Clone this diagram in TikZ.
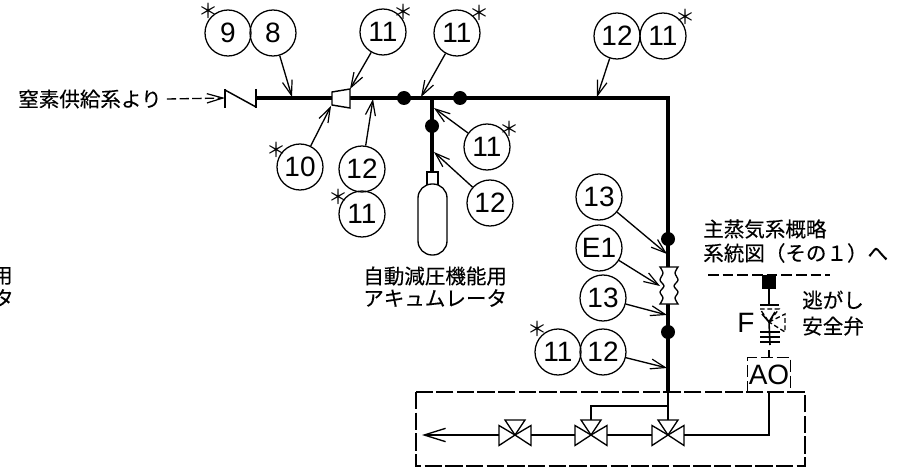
\documentclass[tikz,border=0pt]{standalone}
\usepackage{fontspec}
\setmainfont{Liberation Sans}
\newfontfamily\cjk[FakeBold=.25]{Noto Sans CJK JP}
\newfontfamily\cjkstar{Noto Sans CJK JP}
\usetikzlibrary{arrows.meta}
\tikzset{
  tag/.style={circle,draw,line width=.95pt,minimum size=34.5pt,inner sep=0pt,font=\fontsize{21}{22}\selectfont},
  star/.style={inner sep=0pt,font=\cjkstar\fontsize{15}{15}\selectfont},
  jp/.style={inner sep=0pt,anchor=west,font=\cjk\fontsize{15.4}{15.4}\selectfont},
  lead/.style={line width=1pt,-{Straight Barb[length=11pt,width=7.5pt,line width=.9pt]}},
  pipe/.style={line width=3.3pt},
  thin/.style={line width=1pt},
  dot/.style={circle,fill=black,inner sep=0pt,minimum size=10.5pt},
  dbox/.style={line width=1pt,dash pattern=on 13pt off 2.5pt},
  dline/.style={line width=1.1pt,dash pattern=on 8pt off 3pt},
  vbody/.style={line width=1pt,fill=white}
}
\newcommand{\vlv}[2]{%
  \coordinate (#1) at (#2,435);
  \coordinate (#1w) at (#2-16,435);
  \coordinate (#1e) at (#2+16,435);
  \coordinate (#1t) at (#2,420);
  \draw[vbody,line join=miter] (#1w) ++(0,-9.5) -- (#1) -- ++(16,-9.5) -- ++(0,20) -- (#1) -- ++(-16,10.5) -- cycle;
  \draw[vbody] (#1) -- ++(-10,-15) -- ++(20,0) -- cycle;
}
\begin{document}
\begin{tikzpicture}[x=.75pt,y=-.75pt]
\useasboundingbox (0,0) rectangle (898,470);
% named ends
\coordinate (chkL) at (225,98);
\coordinate (chkR) at (256,98);
\coordinate (redL) at (332,98);
\coordinate (redR) at (350,98);
\coordinate (corner) at (668,98);
\coordinate (boxtop) at (668,392);
\coordinate (tee) at (432,98);
\coordinate (neck) at (432,172);
% pipes
\draw[pipe] (chkR) -- (redL);
\draw[pipe,line join=miter] (redR) -- (corner) -- (boxtop);
\draw[pipe] (tee) -- (neck);
\node[dot] (d1) at (404,98) {};
\node[dot] (d2) at (460,98) {};
\node[dot] (d3) at (432,126) {};
\node[dot] (d4) at (668,239) {};
\node[dot] (d5) at (668,332) {};
% check valve
\draw[line width=1.1pt] (225,89) -- (225,108);
\draw[line width=1.1pt] (225,90) -- (256,107);
\draw[line width=1.1pt] (256,89) -- (256,108);
% reducer
\draw[line width=1.1pt,fill=white] (332,92) -- (350,89) -- (350,108) -- (332,105) -- cycle;
% accumulator
\draw[thin,fill=white] (427,172) rectangle (438,186);
\draw[thin,fill=white,rounded corners=10.5pt] (418,184) rectangle (447,255);
% bellows
\draw[thin,fill=white] plot[smooth] coordinates {(660,267)(663,273)(660,280)(664,286)(660,292)(663,298)(660,304)} -- plot[smooth] coordinates {(678,304)(675,298)(678,292)(674,286)(678,280)(675,273)(678,267)} -- cycle;
% tags
\node[tag] (t9) at (228,33) {9};
\node[tag] (t8) at (273,33) {8};
\node[tag] (t11a) at (383,32) {11};
\node[tag] (t11b) at (457,33) {11};
\node[tag] (t12a) at (617,36) {12};
\node[tag] (t11c) at (663,36) {11};
\node[tag] (t10) at (300,167) {10};
\node[tag] (t12b) at (362,169) {12};
\node[tag] (t11d) at (362,214) {11};
\node[tag] (t11e) at (487,147) {11};
\node[tag] (t12c) at (490,203) {12};
\node[tag] (t13a) at (599,197) {13};
\node[tag] (tE) at (599,248) {E1};
\node[tag] (t13b) at (603,298) {13};
\node[tag] (t11f) at (558,352) {11};
\node[tag] (t12d) at (603,352) {12};
% asterisks
\foreach \n/\px/\py in {s1/208/11,s2/403/12,s3/479/13,s4/685/17,s5/276/150,s6/338/197,s7/509/129,s8/537/329}
  \node[star] (\n) at (\px,\py) {＊};
% leaders
\coordinate (e8) at (292,97);
\coordinate (e11a) at (350,89);
\coordinate (e11b) at (421,97);
\coordinate (e12a) at (597,97);
\coordinate (e10) at (331,106);
\coordinate (e12b) at (373,99);
\coordinate (e11e) at (434,108);
\coordinate (e12c) at (434,152);
\coordinate (e13a) at (667,254);
\coordinate (eE) at (660,286);
\coordinate (e13b) at (667,315);
\coordinate (e12d) at (667,368);
\draw[lead] (t8) -- (e8);
\draw[lead] (t11a) -- (e11a);
\draw[lead] (t11b) -- (e11b);
\draw[lead] (t12a) -- (e12a);
\draw[lead] (t10) -- (e10);
\draw[lead] (t12b) -- (e12b);
\draw[lead] (t11e) -- (e11e);
\draw[lead] (t12c) -- (e12c);
\draw[lead] (t13a) -- (e13a);
\draw[lead] (tE) -- (eE);
\draw[lead] (t13b) -- (e13b);
\draw[lead] (t12d) -- (e12d);
% texts
\node[jp] (n1) at (18,99) {窒素供給系より};
\draw[line width=1pt,dash pattern=on 7pt off 2.5pt,-{Straight Barb[length=12pt,width=7pt,line width=.9pt]}] (n1.east)++(5,0) -- (chkL);
\node[jp,anchor=east] (l1) at (13,276) {用};
\node[jp,anchor=east] (l2) at (14,298) {タ};
\node[jp] (a1) at (363,276) {自動減圧機能用};
\node[jp] (a2) at (363,298) {アキュムレータ};
\node[jp] (m1) at (703,229) {主蒸気系概略};
\node[jp] (m2) at (703,253) {系統図（その１）へ};
\node[jp] (r1) at (802,300) {逃がし};
\node[jp] (r2) at (802,326) {安全弁};
\node[inner sep=0pt,font=\fontsize{21}{22}\selectfont] (fl) at (746,323) {F};
% relief line
\coordinate (dlL) at (708,275);
\coordinate (dlR) at (830,275);
\draw[dline] (dlL) -- (dlR);
\node[fill=black,minimum width=10.5pt,minimum height=10.5pt,inner sep=0pt] (sq) at (769,282) {};
\coordinate (fl1) at (769,305);
\coordinate (rv) at (769,322);
\draw[line width=1.2pt] (sq) -- (fl1);
\draw[line width=1.2pt] (760,305) -- (779,305);
\draw[line width=1pt,dash pattern=on 3.5pt off 2pt] (760,309) -- (779,309) -- (rv) -- cycle;
\draw[line width=1pt,dash pattern=on 3.5pt off 2pt] (rv) -- (785,314) -- (785,332) -- cycle;
\draw[line width=1.2pt] (762,314) -- (rv) -- (775,312);
\draw[line width=1.2pt] (rv) -- (770,345);
\draw[line width=1.1pt] (760,332) -- (780,332) (760,337) -- (780,337) (760,342) -- (780,342);
\node[inner sep=0pt,minimum width=31.5pt,minimum height=26pt,font=\fontsize{21}{22}\selectfont] (ao) at (769,375) {AO};
\coordinate (aot) at (769,350);
\draw[line width=1pt] (aot) -- (ao.north);
\draw[line width=1pt,dash pattern=on 9pt off 3pt] (ao.south west) -- (ao.north west) -- (ao.north east) -- (ao.south east);
% bottom box
\draw[dbox] (416,392) rectangle (805,466);
% valves
\draw[thin] (boxtop) -- (668,420);
\draw[thin] (668,406) -- (591,406) -- (591,420);
\vlv{v1}{515}
\vlv{v2}{591}
\vlv{v3}{668}
\coordinate (out) at (422,435);
\coordinate (aob) at (769,392);
\draw[thin,-{Straight Barb[length=16pt,width=10pt,line width=1pt]}] (v1w) -- (out);
\draw[thin] (v2w) -- (v1e);
\draw[thin] (v3w) -- (v2e);
\draw[thin] (v3e) -- (769,435) -- (aob);
\end{tikzpicture}
\end{document}
